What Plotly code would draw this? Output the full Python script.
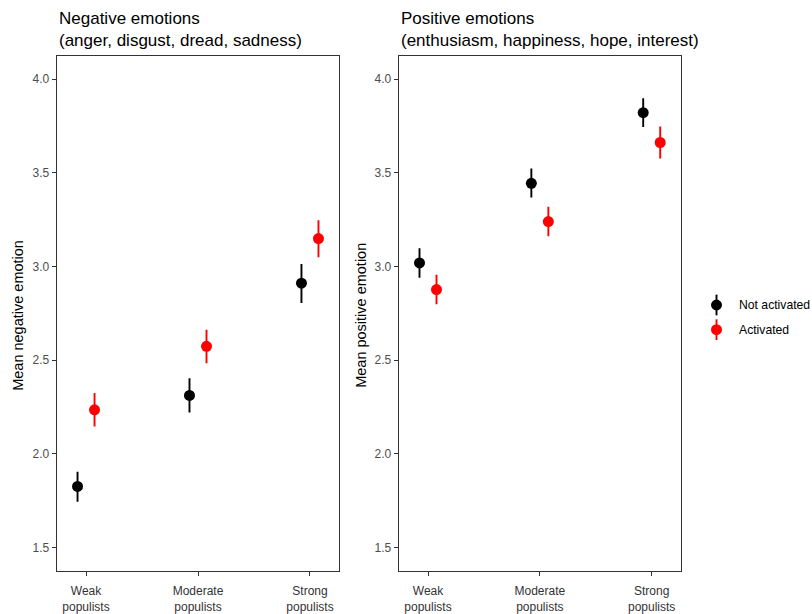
import plotly.graph_objects as go

categories = ["Weak<br>populists", "Moderate<br>populists", "Strong<br>populists"]
groups = ["Not activated", "Activated"]
colors = ["#000000", "#FF0000"]

# Negative emotions: mean, upper, lower per group
neg_mean = {"Not activated": [1.826, 2.312, 2.911], "Activated": [2.235, 2.574, 3.149]}
neg_hi = {"Not activated": [1.905, 2.404, 3.014], "Activated": [2.325, 2.663, 3.247]}
neg_lo = {"Not activated": [1.744, 2.221, 2.805], "Activated": [2.146, 2.484, 3.049]}

# Positive emotions
pos_mean = {"Not activated": [3.019, 3.444, 3.821], "Activated": [2.877, 3.240, 3.662]}
pos_hi = {"Not activated": [3.098, 3.523, 3.898], "Activated": [2.956, 3.319, 3.747]}
pos_lo = {"Not activated": [2.940, 3.368, 3.745], "Activated": [2.798, 3.162, 3.577]}

y_ticks = [1.5, 2.0, 2.5, 3.0, 3.5, 4.0]
dodge = [-0.076, 0.076]

W, H = 812, 614
def px(x):
    return x / W
def py(y):
    return 1 - y / H

fig = go.Figure()

panels = [("x", "y", neg_mean, neg_hi, neg_lo), ("x2", "y2", pos_mean, pos_hi, pos_lo)]
for xa, ya, mean, hi, lo in panels:
    for g, c, d in zip(groups, colors, dodge):
        m = mean[g]
        xs = [i + 1 + d for i in range(len(categories))]
        fig.add_trace(go.Scatter(
            x=xs, y=m, mode="markers", xaxis=xa, yaxis=ya,
            marker=dict(color=c, size=11),
            error_y=dict(type="data", symmetric=False,
                         array=[h - v for h, v in zip(hi[g], m)],
                         arrayminus=[v - l for l, v in zip(lo[g], m)],
                         color=c, thickness=1.9, width=0),
            showlegend=False, name=g))

axis_common_x = dict(range=[0.738, 3.262], tickvals=[1, 2, 3], ticktext=categories,
                     showgrid=False, zeroline=False, showline=True, mirror=True,
                     linecolor="#333333", linewidth=1, ticks="outside", ticklen=4,
                     tickcolor="#333333", ticklabelstandoff=5,
                     tickfont=dict(size=12, color="#333333"))
axis_common_y = dict(range=[1.375, 4.125], tickvals=y_ticks,
                     ticktext=[f"{v:.1f}" for v in y_ticks],
                     showgrid=False, zeroline=False, showline=True, mirror=True,
                     linecolor="#333333", linewidth=1, ticks="outside", ticklen=4,
                     tickcolor="#333333", tickfont=dict(size=12, color="#4D4D4D"))

y_dom = [py(578.5), py(56.5)]
fig.update_layout(
    width=W, height=H, margin=dict(l=0, r=0, t=0, b=0),
    paper_bgcolor="white", plot_bgcolor="white",
    font=dict(family="Liberation Sans, Arial, sans-serif", color="#000000"),
    xaxis=dict(domain=[px(56.7), px(339.3)], anchor="y", **axis_common_x),
    yaxis=dict(domain=y_dom, anchor="x", **axis_common_y),
    xaxis2=dict(domain=[px(398.7), px(681)], anchor="y2", **axis_common_x),
    yaxis2=dict(domain=y_dom, anchor="x2", **axis_common_y),
)

titles = [("Negative emotions<br>(anger, disgust, dread, sadness)", 57),
          ("Positive emotions<br>(enthusiasm, happiness, hope, interest)", 398.5)]
for t, x in titles:
    fig.add_annotation(text=t, x=px(x), y=py(7), xref="paper", yref="paper",
                       xanchor="left", yanchor="top", align="left", showarrow=False,
                       font=dict(size=17, color="#000000"))

ytitles = [("Mean negative emotion", 18), ("Mean positive emotion", 361)]
for t, x in ytitles:
    fig.add_annotation(text=t, x=px(x), y=py(320), xref="paper", yref="paper",
                       xanchor="center", yanchor="middle", textangle=-90, showarrow=False,
                       font=dict(size=14.5, color="#000000"))

# Legend (drawn manually: vertical line through dot, like ggplot pointrange key)
leg_y = [309, 334]
for g, c, yy in zip(groups, colors, leg_y):
    fig.add_shape(type="line", xref="paper", yref="paper",
                  x0=px(716.5), x1=px(716.5), y0=py(yy - 10.5), y1=py(yy + 10.5),
                  line=dict(color=c, width=1.9))
    fig.add_shape(type="circle", xref="paper", yref="paper",
                  x0=px(716.5 - 5.5), x1=px(716.5 + 5.5), y0=py(yy - 5.5), y1=py(yy + 5.5),
                  fillcolor=c, line=dict(color=c, width=0))
    fig.add_annotation(text=g, x=px(737), y=py(yy), xref="paper", yref="paper",
                       xanchor="left", yanchor="middle", showarrow=False,
                       font=dict(size=12.2, color="#000000"))

fig.write_html(
    "out.html",
    config={"displayModeBar": False},
    post_script="document.documentElement.style.margin='0';"
                "document.body.style.margin='0';"
                "document.body.style.overflow='hidden';"
                "document.documentElement.style.overflow='hidden';",
)
